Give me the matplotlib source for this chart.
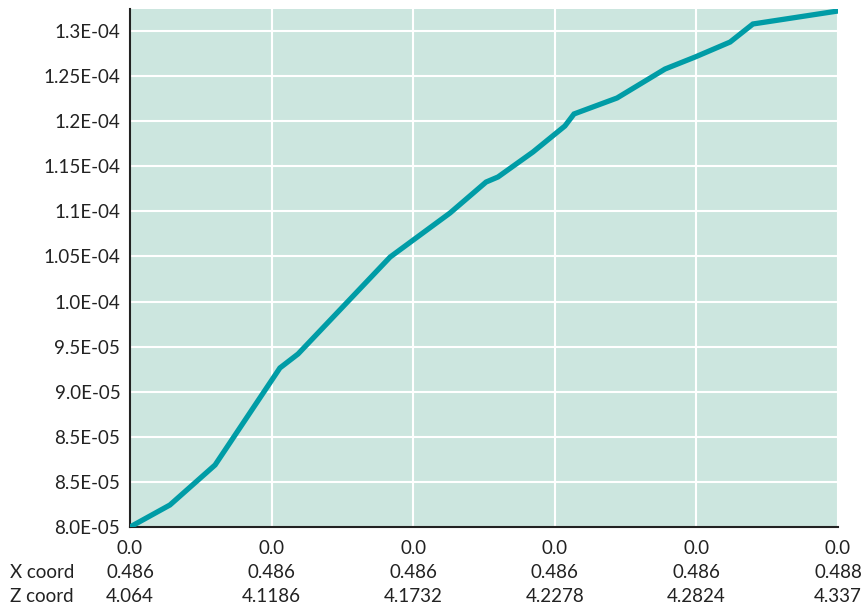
import numpy as np
import matplotlib.pyplot as plt
from matplotlib.transforms import blended_transform_factory

# Z coordinate along the sampled line and the plotted quantity
z_coord = [4.064, 4.0794, 4.0968, 4.1218, 4.1288, 4.1643, 4.1874, 4.2013, 4.2059,
           4.2194, 4.2317, 4.2352, 4.2518, 4.2703, 4.2819, 4.2954, 4.3042, 4.337]
values = [8.000e-05, 8.222e-05, 8.625e-05, 9.603e-05, 9.744e-05, 10.721e-05, 11.165e-05,
          11.477e-05, 11.528e-05, 11.780e-05, 12.042e-05, 12.163e-05, 12.324e-05,
          12.616e-05, 12.737e-05, 12.888e-05, 13.070e-05, 13.201e-05]

# x tick rows
y_row = ["0.0", "0.0", "0.0", "0.0", "0.0", "0.0"]
x_row = ["0.486", "0.486", "0.486", "0.486", "0.486", "0.488"]
z_row = ["4.064", "4.1186", "4.1732", "4.2278", "4.2824", "4.337"]
z_ticks = [4.064, 4.1186, 4.1732, 4.2278, 4.2824, 4.337]
row_names = ["", "X coord", "Z coord"]

y_labels = ["8.0E-05", "8.5E-05", "8.5E-05", "9.0E-05", "9.5E-05", "1.0E-04",
            "1.05E-04", "1.1E-04", "1.15E-04", "1.2E-04", "1.25E-04", "1.3E-04"]

plt.rcParams['font.family'] = ['Lato', 'DejaVu Sans']
fs = 13.5
tc = '#222222'

fig = plt.figure(figsize=(8.67, 6.13), dpi=100)
ax = fig.add_axes([130/867, 86/613, 708/867, 518/613])
ax.set_facecolor('#cce6df')

ax.plot(z_coord, values, color='#009ca6', linewidth=3.8, solid_joinstyle='miter', zorder=3)

ax.set_xlim(4.064, 4.337)
ax.set_ylim(8.0e-05, 1.3221e-04)

yt = np.linspace(8.0e-05, 1.3e-04, 12)
ax.set_yticks(yt)
ax.set_yticklabels(y_labels, fontsize=fs, color=tc)
ax.set_xticks(z_ticks)
ax.set_xticklabels([])
ax.tick_params(axis='both', length=0)
ax.tick_params(axis='y', pad=7)

ax.grid(True, color='white', linewidth=1.5)
ax.set_axisbelow(True)

for s in ['top', 'right']:
    ax.spines[s].set_visible(False)
for s in ['left', 'bottom']:
    ax.spines[s].set_color(tc)
    ax.spines[s].set_linewidth(1.5)

# three rows of x labels under each tick
trans = blended_transform_factory(ax.transData, fig.transFigure)
row_y = [548, 573, 597]
for rows, py in zip([y_row, x_row, z_row], row_y):
    for z, lab in zip(z_ticks, rows):
        ax.text(z, 1 - py/613, lab, transform=trans, fontsize=fs, color=tc,
                ha='center', va='center', clip_on=False)
for name, py in zip(row_names, row_y):
    if name:
        fig.text(10/867, 1 - py/613, name, fontsize=fs, color=tc, va='center', ha='left')

fig.savefig('out.png', dpi=100)
